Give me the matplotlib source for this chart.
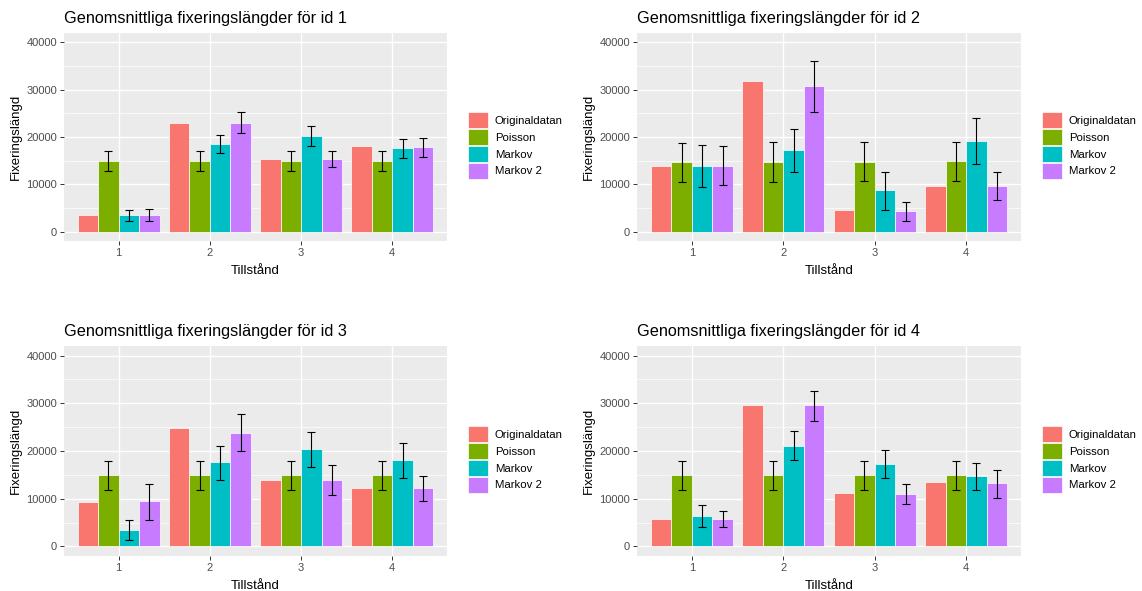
import matplotlib
matplotlib.use("Agg")
import matplotlib.pyplot as plt
from matplotlib.patches import Patch
import numpy as np

plt.rcParams['font.family'] = ['Liberation Sans', 'DejaVu Sans']

#region: ------------------------- Data -------------------------
states = ['1', '2', '3', '4']
series = ['Originaldatan', 'Poisson', 'Markov', 'Markov 2']
colors = ['#F8766D', '#7CAE00', '#00BFC4', '#C77CFF']

# one row per id (1..4), one value per Tillstånd (1..4)
originaldatan = [
    [3500, 23050, 15340, 18070],
    [14010, 31800, 4550, 9740],
    [9370, 24830, 13990, 12240],
    [5660, 29580, 11260, 13430],
]
poisson = [
    [15000, 15000, 15000, 15000],
    [14780, 14780, 14780, 14990],
    [14970, 15000, 15000, 15000],
    [14970, 15000, 15000, 15000],
]
poisson_lo = [
    [12800, 12800, 12800, 12800],
    [10440, 10440, 10650, 10650],
    [11890, 11900, 11900, 11900],
    [11890, 11900, 11900, 11900],
]
poisson_hi = [
    [17000, 17000, 17000, 17000],
    [18700, 18980, 18980, 18980],
    [17970, 18000, 18000, 18000],
    [17970, 18000, 18000, 18000],
]
markov = [
    [3500, 18630, 20180, 17650],
    [14010, 17300, 8760, 19190],
    [3500, 17620, 20350, 18040],
    [6430, 21120, 17270, 14690],
]
markov_lo = [
    [2300, 16600, 18210, 15690],
    [9530, 12610, 4690, 14360],
    [1330, 13920, 16640, 14410],
    [4060, 18110, 14270, 11820],
]
markov_hi = [
    [4600, 20500, 22280, 19540],
    [18350, 21720, 12610, 24030],
    [5590, 20980, 23920, 21610],
    [8600, 24130, 20280, 17550],
]
markov2 = [
    [3500, 23050, 15340, 17860],
    [14010, 30820, 4340, 9740],
    [9580, 23850, 13990, 12240],
    [5800, 29580, 11050, 13220],
]
markov2_lo = [
    [2300, 20880, 13730, 15830],
    [9810, 25290, 2380, 6800],
    [5590, 19930, 10770, 9580],
    [4060, 26220, 8880, 10210],
]
markov2_hi = [
    [4800, 25360, 17020, 19750],
    [18210, 36010, 6230, 12610],
    [13150, 27760, 16990, 14760],
    [7340, 32660, 13150, 15940],
]
#endregion

#region: ------------------------- Plot -------------------------
W, H = 1142, 591
fig = plt.figure(figsize=(W / 100, H / 100), dpi=100)

# panel boxes in pixels: left, top, right, bottom
boxes = [
    (64, 33, 447, 241.3),
    (637, 33, 1021, 241.3),
    (64, 346, 447, 556),
    (637, 346, 1021, 556),
]

bar_w = 0.9 / 4
x = np.arange(1, 5)

for i, (l, t, r, b) in enumerate(boxes):
    ax = fig.add_axes([l / W, 1 - b / H, (r - l) / W, (b - t) / H])
    ax.set_facecolor('#EBEBEB')
    for s in ax.spines.values():
        s.set_visible(False)

    vals = [originaldatan[i], poisson[i], markov[i], markov2[i]]
    lo = [None, poisson_lo[i], markov_lo[i], markov2_lo[i]]
    hi = [None, poisson_hi[i], markov_hi[i], markov2_hi[i]]

    for k in range(4):
        xs = x + (k - 1.5) * bar_w
        ax.bar(xs, vals[k], width=bar_w, color=colors[k], edgecolor='white',
               linewidth=0.5, zorder=3)
        if lo[k] is not None:
            v = np.array(vals[k])
            yerr = [v - np.array(lo[k]), np.array(hi[k]) - v]
            ax.errorbar(xs, v, yerr=yerr, fmt='none', ecolor='black',
                        elinewidth=0.8, capsize=2.8, capthick=0.8, zorder=4)

    ax.set_xlim(0.4, 4.6)
    ax.set_ylim(-2000, 42000)
    ax.set_xticks(x)
    ax.set_xticklabels(states)
    ax.set_yticks([0, 10000, 20000, 30000, 40000])
    ax.set_yticks([5000, 15000, 25000, 35000], minor=True)
    ax.grid(True, which='major', color='white', linewidth=1.0, zorder=0)
    ax.grid(True, which='minor', axis='y', color='white', linewidth=0.5, zorder=0)
    ax.set_axisbelow(True)
    ax.tick_params(axis='both', which='major', labelsize=8, colors='#333333',
                   labelcolor='#4D4D4D', length=3, width=0.7, pad=2)
    ax.tick_params(axis='y', which='minor', length=0)

    ax.set_xlabel('Tillstånd', fontsize=9.5, labelpad=5)
    ax.set_ylabel('Fixeringslängd', fontsize=9.5, labelpad=3)
    ax.set_title(f'Genomsnittliga fixeringslängder för id {i + 1}',
                 loc='left', fontsize=11.7, pad=7)

    handles = [Patch(facecolor=c, edgecolor='white', linewidth=0.5) for c in colors]
    ax.legend(handles, series, loc='center left', bbox_to_anchor=(1.055, 0.46),
              frameon=False, fontsize=8.2, handlelength=1.75, handleheight=1.75,
              labelspacing=0.1, handletextpad=0.6, borderpad=0, borderaxespad=0)

plt.savefig('out.png', dpi=100)
#endregion
